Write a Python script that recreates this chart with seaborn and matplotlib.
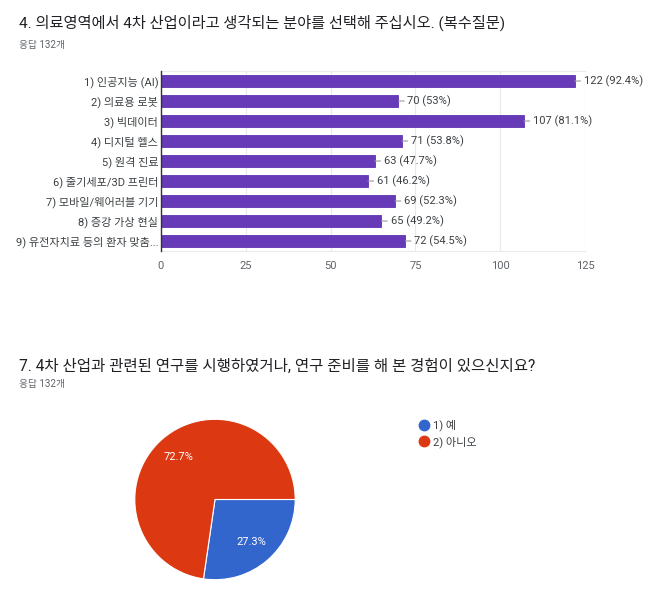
import numpy as np
import pandas as pd
import seaborn as sns
import matplotlib.pyplot as plt
from matplotlib.lines import Line2D

# 4번 문항 (복수응답)
fields = ['1) 인공지능 (AI)', '2) 의료용 로봇', '3) 빅데이터', '4) 디지털 헬스', '5) 원격 진료',
          '6) 줄기세포/3D 프린터', '7) 모바일/웨어러블 기기', '8) 증강 가상 현실', '9) 유전자치료 등의 환자 맞춤...']
counts = [122, 70, 107, 71, 63, 61, 69, 65, 72]
pcts = ['92.4%', '53%', '81.1%', '53.8%', '47.7%', '46.2%', '52.3%', '49.2%', '54.5%']

# 7번 문항
pie_labels = ['1) 예', '2) 아니오']
pie_vals = [27.3, 72.7]
pie_colors = ['#3366cc', '#dc3912']

n_resp = 132

sns.set_theme(style='white')
plt.rcParams['font.family'] = ['Roboto', 'Noto Sans CJK KR', 'DejaVu Sans']

W, H = 650, 593
fig = plt.figure(figsize=(W / 100, H / 100), dpi=100)
fig.patch.set_facecolor('white')

def fx(px):
    return px / W

def fy(py):
    return 1 - py / H

# titles
fig.text(fx(19), fy(23), '4. 의료영역에서 4차 산업이라고 생각되는 분야를 선택해 주십시오. (복수질문)',
         fontsize=11, color='#202124', va='center')
fig.text(fx(19), fy(45), f'응답 {n_resp}개', fontsize=7, color='#5f6368', va='center')
fig.text(fx(19), fy(366), '7. 4차 산업과 관련된 연구를 시행하였거나, 연구 준비를 해 본 경험이 있으신지요?',
         fontsize=11.2, color='#202124', va='center')
fig.text(fx(19), fy(384), f'응답 {n_resp}개', fontsize=7, color='#5f6368', va='center')

# bar chart
df = pd.DataFrame({'field': fields, 'count': counts, 'pct': pcts})
ax = fig.add_axes([fx(161), fy(251), fx(585) - fx(161), fy(71) - fy(251)])
sns.barplot(data=df, x='count', y='field', orient='h', color='#673ab7', width=0.62,
            edgecolor='#5e35b1', linewidth=0.6, saturation=1, ax=ax, zorder=3)
ax.set_xlim(0, 125)
ax.set_xticks([0, 25, 50, 75, 100, 125])
ax.set_xlabel('')
ax.set_ylabel('')
ax.grid(axis='x', color='#e8e8e8', lw=0.8, zorder=0)
ax.tick_params(axis='both', length=0, labelsize=8, colors='#3c4043')
ax.tick_params(axis='x', pad=7, colors='#5f6368')
ax.tick_params(axis='y', pad=2)
for s in ['top', 'bottom', 'right']:
    ax.spines[s].set_color('#ebebeb')
    ax.spines[s].set_linewidth(0.8)
ax.spines['right'].set_visible(False)
ax.spines['left'].set_color('#333333')
ax.spines['left'].set_linewidth(1.0)
ax.spines['left'].set_zorder(4)

for i, row in df.iterrows():
    ax.annotate(f"{row['count']} ({row['pct']})", xy=(row['count'], i), xytext=(6.5, 0),
                textcoords='offset points', ha='left', va='center', fontsize=8, color='#3c4043',
                arrowprops=dict(arrowstyle='-', color='#999999', lw=0.8, shrinkA=0, shrinkB=0,
                                relpos=(0, 0.5)),
                annotation_clip=False)

# pie chart
cx, cy, r = 215, 499.5, 81
pax = fig.add_axes([fx(cx - r), fy(cy + r), fx(2 * r), fy(0) - fy(2 * r)])
wedges, _, autotexts = pax.pie(pie_vals, colors=pie_colors, startangle=0, counterclock=False,
                               autopct='%1.1f%%', pctdistance=0.7,
                               wedgeprops=dict(edgecolor='white', linewidth=0.8),
                               textprops=dict(color='white', fontsize=8))
pax.set_xlim(-1.01, 1.01)
pax.set_ylim(-1.01, 1.01)
pax.set_aspect('equal')

handles = [Line2D([], [], marker='o', linestyle='', markersize=7.5, markerfacecolor=c,
                  markeredgecolor=c) for c in pie_colors]
fig.legend(handles, pie_labels, loc='upper left', bbox_to_anchor=(fx(412), fy(414)),
           frameon=False, fontsize=8, labelcolor='#3c4043', handletextpad=0.2,
           labelspacing=0.45, borderpad=0, handlelength=1.2)

fig.savefig('out.png', dpi=100)
